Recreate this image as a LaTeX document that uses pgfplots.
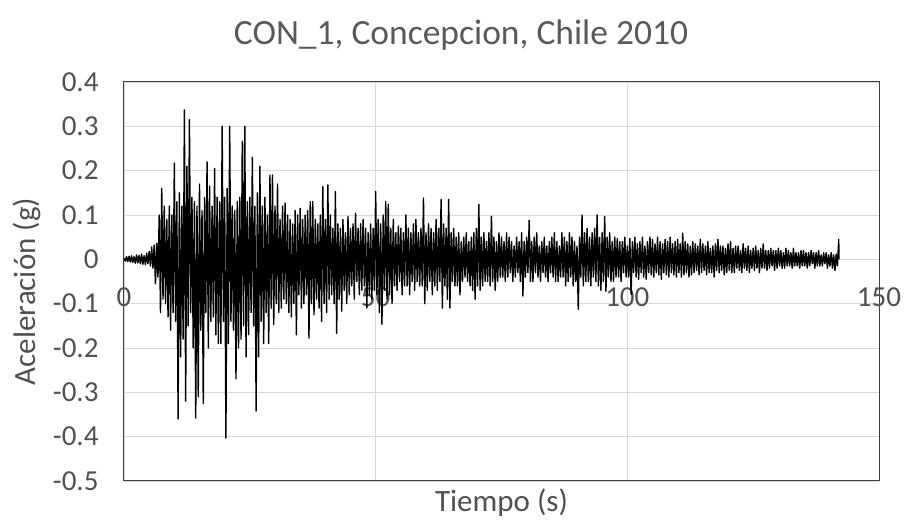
\documentclass[border=0pt]{standalone}
\usepackage{fontspec}
\setmainfont{Carlito}
\usepackage{pgfplots}
\pgfplotsset{compat=1.18}
\definecolor{txtgray}{HTML}{595959}
\definecolor{gridgray}{HTML}{D9D9D9}
\definecolor{boxgray}{HTML}{404040}

\begin{document}
\begin{tikzpicture}
\begin{axis}[
    name=ax,
    scale only axis,
    width=755bp, height=399bp,
    xmin=0, xmax=150,
    ymin=-0.5, ymax=0.4,
    xtick={0,50,100,150},
    xticklabels={0,50,100,150},
    ytick={-0.5,-0.4,-0.3,-0.2,-0.1,0,0.1,0.2,0.3,0.4},
    yticklabels={-0.5,-0.4,-0.3,-0.2,-0.1,0,0.1,0.2,0.3,0.4},
    major tick length=0pt,
    grid=major,
    grid style={gridgray, line width=0.8bp},
    axis line style={boxgray, line width=1bp},
    tick label style={font=\fontsize{29bp}{31bp}\selectfont, text=txtgray!90!black},
    yticklabel style={xshift=-22bp},
    xticklabel style={yshift=197bp},
    clip=false,
]
\addplot[black, line width=1.4bp, line join=round] coordinates {
(0,0.002)(0.25,-0.004)(0.5,0.006)(0.75,-0.005)
(1,0.007)(1.25,-0.006)(1.5,0.008)(1.75,-0.007)
(2,0.006)(2.25,-0.009)(2.5,0.010)(2.75,-0.008)
(3,0.009)(3.25,-0.010)(3.5,0.012)(3.75,-0.011)
(4,0.008)(4.25,-0.012)(4.5,0.014)(4.75,-0.010)
(5,0.018)(5.25,-0.015)(5.5,0.028)(5.75,-0.020)
(6,0.032)(6.25,-0.055)(6.5,0.036)(6.75,-0.040)
(7,0.10)(7.25,-0.12)(7.5,0.16)(7.75,-0.09)
(8,0.12)(8.25,-0.10)(8.5,0.09)(8.75,-0.13)
(9,0.12)(9.25,-0.16)(9.5,0.10)(9.75,-0.12)
(10,0.217)(10.25,-0.14)(10.5,0.13)(10.75,-0.36)
(11,0.15)(11.25,-0.22)(11.5,0.12)(11.75,-0.18)
(12,0.337)(12.25,-0.32)(12.5,0.21)(12.75,-0.15)
(13,0.315)(13.25,-0.12)(13.5,0.14)(13.75,-0.20)
(14,0.13)(14.25,-0.358)(14.5,0.12)(14.75,-0.31)
(15,0.17)(15.25,-0.16)(15.5,0.11)(15.75,-0.325)
(16,0.14)(16.25,-0.12)(16.5,0.22)(16.75,-0.20)
(17,0.165)(17.25,-0.14)(17.5,0.12)(17.75,-0.13)
(18,0.205)(18.25,-0.17)(18.5,0.14)(18.75,-0.19)
(19,0.13)(19.25,-0.19)(19.5,0.30)(19.75,-0.14)
(20,0.14)(20.25,-0.403)(20.5,0.16)(20.75,-0.19)
(21,0.30)(21.25,-0.14)(21.5,0.12)(21.75,-0.16)
(22,0.11)(22.25,-0.27)(22.5,0.13)(22.75,-0.20)
(23,0.14)(23.25,-0.18)(23.5,0.266)(23.75,-0.15)
(24,0.30)(24.25,-0.22)(24.5,0.13)(24.75,-0.17)
(25,0.14)(25.25,-0.12)(25.5,0.23)(25.75,-0.15)
(26,0.12)(26.25,-0.342)(26.5,0.15)(26.75,-0.22)
(27,0.21)(27.25,-0.14)(27.5,0.12)(27.75,-0.19)
(28,0.14)(28.25,-0.12)(28.5,0.10)(28.75,-0.19)
(29,0.19)(29.25,-0.11)(29.5,0.19)(29.75,-0.147)
(30,0.12)(30.25,-0.10)(30.5,0.17)(30.75,-0.12)
(31,0.09)(31.25,-0.11)(31.5,0.12)(31.75,-0.09)
(32,0.127)(32.25,-0.10)(32.5,0.10)(32.75,-0.12)
(33,0.09)(33.25,-0.13)(33.5,0.08)(33.75,-0.10)
(34,0.11)(34.25,-0.17)(34.5,0.10)(34.75,-0.08)
(35,0.115)(35.25,-0.11)(35.5,0.09)(35.75,-0.10)
(36,0.10)(36.25,-0.08)(36.5,0.11)(36.75,-0.178)
(37,0.13)(37.25,-0.10)(37.5,0.13)(37.75,-0.125)
(38,0.09)(38.25,-0.09)(38.5,0.08)(38.75,-0.11)
(39,0.10)(39.25,-0.14)(39.5,0.164)(39.75,-0.10)
(40,0.09)(40.25,-0.12)(40.5,0.168)(40.75,-0.09)
(41,0.10)(41.25,-0.08)(41.5,0.07)(41.75,-0.10)
(42,0.153)(42.25,-0.167)(42.5,0.08)(42.75,-0.09)
(43,0.07)(43.25,-0.117)(43.5,0.09)(43.75,-0.07)
(44,0.06)(44.25,-0.10)(44.5,0.097)(44.75,-0.08)
(45,0.07)(45.25,-0.06)(45.5,0.08)(45.75,-0.09)
(46,0.104)(46.25,-0.05)(46.5,0.07)(46.75,-0.08)
(47,0.08)(47.25,-0.07)(47.5,0.09)(47.75,-0.06)
(48,0.07)(48.25,-0.11)(48.5,0.06)(48.75,-0.08)
(49,0.08)(49.25,-0.09)(49.5,0.07)(49.75,-0.07)
(50,0.153)(50.25,-0.08)(50.5,0.09)(50.75,-0.12)
(51,0.08)(51.25,-0.147)(51.5,0.10)(51.75,-0.07)
(52,0.13)(52.25,-0.09)(52.5,0.124)(52.75,-0.08)
(53,0.07)(53.25,-0.10)(53.5,0.09)(53.75,-0.06)
(54,0.06)(54.25,-0.07)(54.5,0.075)(54.75,-0.05)
(55,0.07)(55.25,-0.08)(55.5,0.06)(55.75,-0.06)
(56,0.10)(56.25,-0.06)(56.5,0.07)(56.75,-0.08)
(57,0.06)(57.25,-0.05)(57.5,0.08)(57.75,-0.07)
(58,0.09)(58.25,-0.05)(58.5,0.06)(58.75,-0.06)
(59,0.07)(59.25,-0.06)(59.5,0.138)(59.75,-0.10)
(60,0.06)(60.25,-0.07)(60.5,0.08)(60.75,-0.05)
(61,0.07)(61.25,-0.08)(61.5,0.06)(61.75,-0.06)
(62,0.09)(62.25,-0.07)(62.5,0.07)(62.75,-0.05)
(63,0.135)(63.25,-0.11)(63.5,0.08)(63.75,-0.06)
(64,0.07)(64.25,-0.09)(64.5,0.135)(64.75,-0.11)
(65,0.06)(65.25,-0.05)(65.5,0.07)(65.75,-0.06)
(66,0.05)(66.25,-0.06)(66.5,0.06)(66.75,-0.08)
(67,0.04)(67.25,-0.05)(67.5,0.05)(67.75,-0.04)
(68,0.06)(68.25,-0.05)(68.5,0.04)(68.75,-0.06)
(69,0.05)(69.25,-0.07)(69.5,0.06)(69.75,-0.09)
(70,0.07)(70.25,-0.06)(70.5,0.124)(70.75,-0.07)
(71,0.05)(71.25,-0.06)(71.5,0.06)(71.75,-0.05)
(72,0.04)(72.25,-0.05)(72.5,0.06)(72.75,-0.06)
(73,0.097)(73.25,-0.05)(73.5,0.05)(73.75,-0.07)
(74,0.04)(74.25,-0.05)(74.5,0.06)(74.75,-0.04)
(75,0.05)(75.25,-0.04)(75.5,0.04)(75.75,-0.05)
(76,0.06)(76.25,-0.04)(76.5,0.05)(76.75,-0.03)
(77,0.04)(77.25,-0.05)(77.5,0.03)(77.75,-0.04)
(78,0.05)(78.25,-0.03)(78.5,0.04)(78.75,-0.05)
(79,0.06)(79.25,-0.083)(79.5,0.04)(79.75,-0.04)
(80,0.05)(80.25,-0.03)(80.5,0.088)(80.75,-0.05)
(81,0.04)(81.25,-0.05)(81.5,0.05)(81.75,-0.03)
(82,0.06)(82.25,-0.04)(82.5,0.03)(82.75,-0.05)
(83,0.04)(83.25,-0.03)(83.5,0.05)(83.75,-0.04)
(84,0.03)(84.25,-0.05)(84.5,0.04)(84.75,-0.03)
(85,0.05)(85.25,-0.04)(85.5,0.06)(85.75,-0.05)
(86,0.04)(86.25,-0.05)(86.5,0.03)(86.75,-0.04)
(87,0.06)(87.25,-0.04)(87.5,0.05)(87.75,-0.06)
(88,0.04)(88.25,-0.05)(88.5,0.06)(88.75,-0.04)
(89,0.05)(89.25,-0.06)(89.5,0.04)(89.75,-0.05)
(90,0.03)(90.25,-0.113)(90.5,0.05)(90.75,-0.04)
(91,0.10)(91.25,-0.06)(91.5,0.06)(91.75,-0.05)
(92,0.07)(92.25,-0.05)(92.5,0.05)(92.75,-0.06)
(93,0.06)(93.25,-0.04)(93.5,0.07)(93.75,-0.05)
(94,0.10)(94.25,-0.06)(94.5,0.05)(94.75,-0.07)
(95,0.06)(95.25,-0.05)(95.5,0.097)(95.75,-0.072)
(96,0.05)(96.25,-0.04)(96.5,0.06)(96.75,-0.05)
(97,0.04)(97.25,-0.05)(97.5,0.05)(97.75,-0.04)
(98,0.047)(98.25,-0.04)(98.5,0.04)(98.75,-0.05)
(99,0.04)(99.25,-0.03)(99.5,0.05)(99.75,-0.04)
(100,0.03)(100.25,-0.04)(100.5,0.047)(100.75,-0.079)
(101,0.04)(101.25,-0.03)(101.5,0.05)(101.75,-0.04)
(102,0.035)(102.25,-0.045)(102.5,0.04)(102.75,-0.03)
(103,0.05)(103.25,-0.04)(103.5,0.03)(103.75,-0.045)
(104,0.04)(104.25,-0.03)(104.5,0.05)(104.75,-0.035)
(105,0.045)(105.25,-0.04)(105.5,0.035)(105.75,-0.03)
(106,0.05)(106.25,-0.035)(106.5,0.04)(106.75,-0.045)
(107,0.035)(107.25,-0.03)(107.5,0.045)(107.75,-0.035)
(108,0.04)(108.25,-0.04)(108.5,0.05)(108.75,-0.03)
(109,0.035)(109.25,-0.035)(109.5,0.04)(109.75,-0.04)
(110,0.045)(110.25,-0.03)(110.5,0.035)(110.75,-0.04)
(111,0.059)(111.25,-0.035)(111.5,0.04)(111.75,-0.03)
(112,0.035)(112.25,-0.04)(112.5,0.03)(112.75,-0.035)
(113,0.04)(113.25,-0.03)(113.5,0.035)(113.75,-0.025)
(114,0.03)(114.25,-0.035)(114.5,0.045)(114.75,-0.03)
(115,0.035)(115.25,-0.025)(115.5,0.03)(115.75,-0.035)
(116,0.04)(116.25,-0.03)(116.5,0.025)(116.75,-0.03)
(117,0.03)(117.25,-0.04)(117.5,0.035)(117.75,-0.025)
(118,0.045)(118.25,-0.03)(118.5,0.03)(118.75,-0.025)
(119,0.03)(119.25,-0.035)(119.5,0.025)(119.75,-0.03)
(120,0.035)(120.25,-0.025)(120.5,0.04)(120.75,-0.03)
(121,0.025)(121.25,-0.03)(121.5,0.03)(121.75,-0.02)
(122,0.03)(122.25,-0.025)(122.5,0.02)(122.75,-0.03)
(123,0.035)(123.25,-0.02)(123.5,0.025)(123.75,-0.025)
(124,0.03)(124.25,-0.03)(124.5,0.02)(124.75,-0.02)
(125,0.025)(125.25,-0.025)(125.5,0.03)(125.75,-0.02)
(126,0.02)(126.25,-0.03)(126.5,0.025)(126.75,-0.02)
(127,0.035)(127.25,-0.02)(127.5,0.02)(127.75,-0.025)
(128,0.02)(128.25,-0.02)(128.5,0.025)(128.75,-0.015)
(129,0.02)(129.25,-0.025)(129.5,0.02)(129.75,-0.02)
(130,0.025)(130.25,-0.015)(130.5,0.02)(130.75,-0.02)
(131,0.015)(131.25,-0.02)(131.5,0.025)(131.75,-0.015)
(132,0.02)(132.25,-0.015)(132.5,0.015)(132.75,-0.02)
(133,0.025)(133.25,-0.015)(133.5,0.015)(133.75,-0.015)
(134,0.015)(134.25,-0.02)(134.5,0.02)(134.75,-0.015)
(135,0.02)(135.25,-0.015)(135.5,0.015)(135.75,-0.02)
(136,0.015)(136.25,-0.015)(136.5,0.02)(136.75,-0.01)
(137,0.015)(137.25,-0.02)(137.5,0.015)(137.75,-0.015)
(138,0.02)(138.25,-0.015)(138.5,0.01)(138.75,-0.015)
(139,0.015)(139.25,-0.01)(139.5,0.015)(139.75,-0.02)
(140,0.01)(140.25,-0.015)(140.5,0.015)(140.75,-0.02)
(141,0.01)(141.25,-0.025)(141.5,0.012)(141.75,-0.015)(142,0.045)(142.05,0.0)
};
\end{axis}
\node[font=\fontsize{35.5bp}{38bp}\selectfont, text=txtgray] at ([xshift=337bp,yshift=47bp]ax.north west) {CON\_1, Concepcion, Chile 2010};
\node[font=\fontsize{31bp}{33bp}\selectfont, text=txtgray!90!black] at ([yshift=-22bp]ax.south) {Tiempo (s)};
\node[font=\fontsize{31bp}{33bp}\selectfont, text=txtgray!90!black, rotate=90] at ([xshift=-97bp,yshift=-10bp]ax.west) {Aceleración (g)};
\pgfresetboundingbox
\path[use as bounding box] ([xshift=-124bp,yshift=-40bp]ax.south west) rectangle ([xshift=30bp,yshift=82bp]ax.north east);
\end{tikzpicture}
\end{document}
